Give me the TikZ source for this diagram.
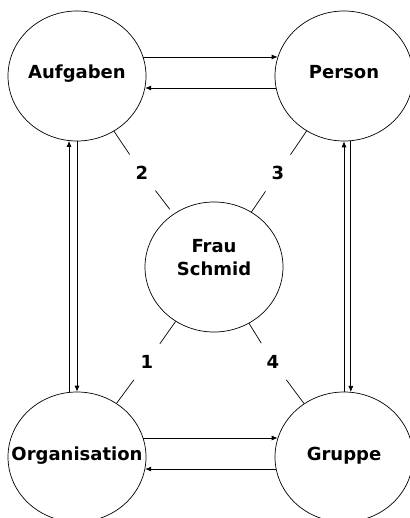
\documentclass[tikz,border=0pt]{standalone}
\usepackage{fontspec}
\setmainfont{DejaVu Sans}
\usetikzlibrary{arrows.meta}
\usetikzlibrary{shapes.geometric}

\tikzset{
  bubble/.style={draw, ellipse, minimum width=138pt, minimum height=130pt, inner sep=0pt,
    line width=0.7pt, font=\bfseries\fontsize{18}{23}\selectfont, text height=11pt, text depth=5pt},
  nummer/.style={circle, minimum size=44pt, inner sep=0pt, font=\bfseries\fontsize{18}{22}\selectfont},
  pfeil/.style={-{Latex[length=6pt,width=5pt]}, line width=0.7pt},
  strich/.style={line width=0.7pt}
}

\begin{document}
\begin{tikzpicture}[x=1pt,y=-1pt]
        \useasboundingbox (0,0) rectangle (409,518);
        % die fuenf Kreise
        \node[bubble] (aufg) at (77,76) {Aufgaben};
        \node[bubble] (pers) at (344,76) {Person};
        \node[bubble, inner xsep=-20pt] (orga) at (77,457) {Organisation};
        \node[bubble] (grup) at (344,457) {Gruppe};
        \node[bubble] (frau) at (214,267) {};
        \node[align=center, font=\bfseries\fontsize{18}{23}\selectfont] (frautxt) at (214,258) {Frau\\Schmid};

        % Zahlen
        \node[nummer] (n2) at (142,173) {2};
        \node[nummer] (n3) at (278,173) {3};
        \node[nummer] (n1) at (147,362) {1};
        \node[nummer] (n4) at (273,362) {4};

        % Pfeile
        \draw[pfeil] (aufg.16) -- (pers.164);
        \draw[pfeil] (pers.190) -- (aufg.350);
        \draw[pfeil] (orga.16) -- (grup.164);
        \draw[pfeil] (grup.190) -- (orga.350);
        \draw[pfeil] (orga.97) -- (aufg.263);
        \draw[pfeil] (aufg.south) -- (orga.north);
        \draw[pfeil] (grup.north) -- (pers.south);
        \draw[pfeil] (pers.276) -- (grup.84);

        % Striche zur Mitte
        \draw[strich] (aufg) -- (n2);
        \draw[strich, shorten >=6pt] (n2) -- (frau);
        \draw[strich] (pers) -- (n3);
        \draw[strich] (n3) -- (frau);
        \draw[strich] (orga) -- (n1);
        \draw[strich] (n1) -- (frau);
        \draw[strich] (grup) -- (n4);
        \draw[strich] (n4) -- (frau);
\end{tikzpicture}
\end{document}
